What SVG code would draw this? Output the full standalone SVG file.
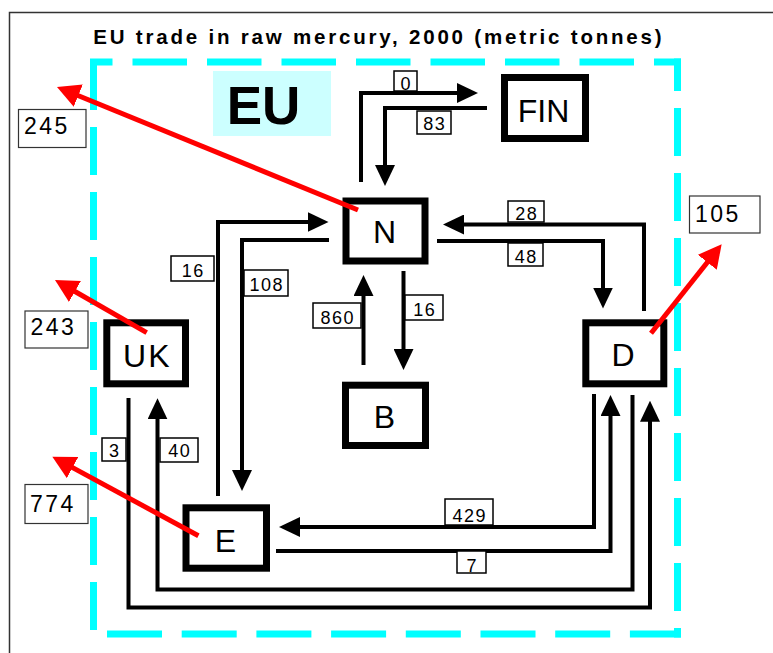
<svg xmlns="http://www.w3.org/2000/svg" width="773" height="653" viewBox="0 0 773 653">
<defs>
<marker id="ah" markerUnits="userSpaceOnUse" markerWidth="21" markerHeight="20" refX="8" refY="10" orient="auto" viewBox="0 0 21 20"><path d="M0,0 L21,10 L0,20 z" fill="#000"/></marker>
<marker id="rh" markerUnits="userSpaceOnUse" markerWidth="23" markerHeight="24" refX="11" refY="12" orient="auto" viewBox="0 0 23 24"><path d="M0,0 L23,12 L0,24 z" fill="#f00"/></marker>
<style>
text{font-family:"Liberation Sans",Arial,Helvetica,sans-serif;fill:#000}
.ln{fill:none;stroke:#000;stroke-width:4;stroke-linejoin:miter;marker-end:url(#ah)}
.red{fill:none;stroke:#f00;stroke-width:5;marker-end:url(#rh)}
.node rect{fill:#fff;stroke:#000;stroke-width:7}
.node text{font-size:32px;text-anchor:middle}
.lb rect{fill:#fff;stroke:#000;stroke-width:1.5}
.lb text{font-size:18px;text-anchor:middle;letter-spacing:1.5px}
.ex rect{fill:#fff;stroke:#333;stroke-width:1.2}
.ex text{font-size:23px;letter-spacing:2.5px}
.cy{stroke:#00ffff;stroke-width:7;fill:none}
</style>
</defs>
<rect x="9.5" y="12.5" width="800" height="700" fill="#fff" stroke="#333" stroke-width="1.5"/>
<g id="eu-border">
<line class="cy" x1="90" y1="62" x2="681" y2="62" stroke-dasharray="54.5 20" stroke-dashoffset="32"/>
<line class="cy" x1="677.5" y1="58.5" x2="677.5" y2="637.5" stroke-dasharray="48 17" stroke-dashoffset="15.5"/>
<line class="cy" x1="93.5" y1="58.5" x2="93.5" y2="637.5" stroke-dasharray="48 17" stroke-dashoffset="61.5"/>
<line class="cy" x1="90" y1="634" x2="681" y2="634" stroke-dasharray="55 19.7" stroke-dashoffset="57.7"/>
</g>
<g id="eu-label">
<rect x="213" y="71" width="118" height="65" fill="#ccffff"/>
<text x="263.5" y="124" font-size="53" font-weight="bold" text-anchor="middle">EU</text>
</g>
<text id="title" x="93.3" y="43.7" font-size="20.5" font-weight="bold" letter-spacing="2.8">EU trade in raw mercury, 2000 (metric tonnes)</text>
<g id="connectors">
<path class="ln" d="M361,182 V93 H465"/>
<path class="ln" d="M487,108 H385 V173"/>
<path class="ln" d="M644,311 V224.5 H456"/>
<path class="ln" d="M437,241 H603 V295.5"/>
<path class="ln" d="M363.5,365 V288"/>
<path class="ln" d="M403.5,271 V357"/>
<path class="ln" d="M218,496 V222 H315.5"/>
<path class="ln" d="M329,240 H242 V478"/>
<path class="ln" d="M128.5,398 V607.5 H650 V413.7"/>
<path class="ln" d="M632.5,395 V589.5 H157.5 V411.3"/>
<path class="ln" d="M594,394 V527 H292"/>
<path class="ln" d="M276,551 H610.5 V408"/>
<g class="lb"><rect x="394" y="71" width="23" height="20"/><text x="406.3" y="90">0</text></g>
<g class="lb"><rect x="417" y="111" width="34" height="23"/><text x="434.8" y="130">83</text></g>
<g class="lb"><rect x="508" y="201" width="36" height="21"/><text x="526.8" y="220">28</text></g>
<g class="lb"><rect x="508" y="243" width="35" height="23"/><text x="526.3" y="262.7">48</text></g>
<g class="lb"><rect x="313" y="303" width="48" height="25"/><text x="337.8" y="324">860</text></g>
<g class="lb"><rect x="405" y="295" width="38" height="25"/><text x="424.8" y="315.7">16</text></g>
<g class="lb"><rect x="171" y="256" width="43" height="25"/><text x="193.3" y="276.7">16</text></g>
<g class="lb"><rect x="244" y="270" width="44" height="26"/><text x="266.8" y="290.7">108</text></g>
<g class="lb"><rect x="102" y="438" width="24" height="23"/><text x="114.8" y="457">3</text></g>
<g class="lb"><rect x="160" y="438" width="38" height="24"/><text x="179.8" y="457">40</text></g>
<g class="lb"><rect x="445" y="499" width="48" height="26"/><text x="469.8" y="521.7">429</text></g>
<g class="lb"><rect x="457" y="551" width="29" height="22"/><text x="472.3" y="571.7">7</text></g>
</g>
<g id="FIN" class="node"><rect x="504.5" y="77.5" width="81" height="61"/><text x="543.5" y="121.7">FIN</text></g>
<g id="N" class="node"><rect x="346" y="201" width="79" height="60"/><text x="384.5" y="243.3">N</text></g>
<g id="D" class="node"><rect x="585.8" y="322.8" width="78" height="61"/><text x="623" y="366">D</text></g>
<g id="UK" class="node"><rect x="106.8" y="322.8" width="78.7" height="61"/><text x="147.3" y="367.3" letter-spacing="2">UK</text></g>
<g id="B" class="node"><rect x="345.5" y="385.2" width="80" height="60.3"/><text x="384.5" y="428.3">B</text></g>
<g id="E" class="node"><rect x="186" y="507.8" width="80.5" height="60.4"/><text x="225.5" y="551.7">E</text></g>
<g id="export-245" class="ex"><rect x="18.5" y="109.5" width="67.5" height="38"/><text x="24" y="134">245</text></g>
<g id="export-243" class="ex"><rect x="25" y="311" width="63" height="37"/><text x="30.5" y="335">243</text></g>
<g id="export-774" class="ex"><rect x="25" y="484.5" width="63" height="39"/><text x="30" y="511.7">774</text></g>
<g id="export-105" class="ex"><rect x="689.5" y="196" width="70.5" height="37"/><text x="695" y="221.7">105</text></g>
<g id="export-connectors">
<line class="red" x1="358" y1="210" x2="68.1" y2="91.5"/>
<line class="red" x1="146.7" y1="332.7" x2="65.4" y2="286"/>
<line class="red" x1="198.4" y1="535.7" x2="62.9" y2="462.4"/>
<line class="red" x1="651" y1="333.3" x2="714.2" y2="253.7"/>
</g>
</svg>
